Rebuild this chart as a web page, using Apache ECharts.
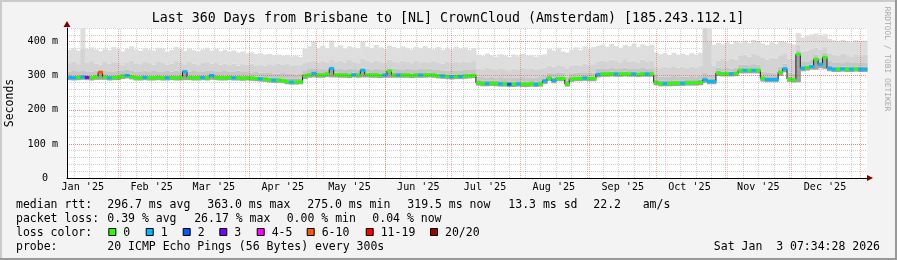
<!DOCTYPE html>
<html><head><meta charset="utf-8">
<script src="https://cdn.jsdelivr.net/npm/echarts@6/dist/echarts.min.js"></script>
<style>html,body{margin:0;padding:0;background:#f3f3f3}#c{width:897px;height:260px}</style>
</head><body><div id="c"></div>
<script>
// ---------- text ----------
const TITLE = "Last 360 Days from Brisbane to [NL] CrownCloud (Amsterdam) [185.243.112.1]";
const Y_NAME = "Seconds";
const WATERMARK = "RRDTOOL / TOBI OETIKER";
const monthLabels = ["Jan '25","Feb '25","Mar '25","Apr '25","May '25","Jun '25","Jul '25","Aug '25","Sep '25","Oct '25","Nov '25","Dec '25"];
const rttStats = ["296.7 ms avg","363.0 ms max","275.0 ms min","319.5 ms now","13.3 ms sd","22.2","am/s"];
const lossStats = ["0.39 % avg","26.17 % max","0.00 % min","0.04 % now"];
const lossNames = ["0","1","2","3","4-5","6-10","11-19","20/20"];
const lossUpper = [0,1,2,3,5,10,19,20];
const probeText = "20 ICMP Echo Pings (56 Bytes) every 300s";
const stampText = "Sat Jan  3 07:34:28 2026";

// ---------- axis ranges (x in days since 2025-01-01) ----------
const X_MIN = 7.9, X_MAX = 367.9, BIN = 2;
const Y_MAX = 440, Y_MAJOR = 100, Y_MINOR = 20;

// ---------- data: one value per 2-day bin ----------
const median = [
295,294,295,296,295,294,296,310,296,294,295,295,299,301,297,294,294,295,294,294,
295,294,294,295,294,294,312,295,294,294,295,294,301,295,294,294,295,294,294,293,
294,293,292,291,290,288,287,287,286,282,281,281,282,300,302,307,302,302,305,321,
303,302,302,301,303,302,316,303,302,302,301,302,314,302,302,302,302,301,302,302,
302,303,302,300,299,298,297,298,298,299,300,301,279,277,277,278,277,276,276,275,
275,276,275,275,276,275,276,285,293,286,292,292,276,290,292,292,293,292,292,304,
305,305,306,305,305,306,305,305,304,305,305,305,280,277,277,277,278,278,278,279,
279,279,280,288,283,283,308,306,306,306,307,316,316,316,316,316,292,289,289,289,
310,320,290,288,363,322,324,327,348,333,354,322,319,319,320,319,319,320,319,319];
const lossCount = [
1,1,0,1,3,0,0,5.23,0,1,0,0,0,1,0,0,0,1,0,0,
0,0,1,0,0,0,1,0,0,0,1,0,1,0,0,0,0,1,0,0,
0,0,0,1,0,0,1,0,0,0,1,0,0,0,0,1,0,0,0,1,
0,0,0,0,1,0,1,0,0,0,0,1,0,0,1,0,0,0,0,1,
0,0,0,0,1,0,1,0,1,0,0,0,0,0,1,0,0,1,0,2,
0,1,0,0,0,1,0,1,0,1,0,0,0,0,0,0,1,0,0,1,
0,0,0,1,0,0,0,1,0,0,1,0,0,0,1,0,0,0,1,0,
0,0,0,1,1,1,0,0,0,1,0,0,1,0,1,0,0,1,1,1,
0,1,0,0,0,1,0,1,0,1,0,1,1,0,1,0,1,0,1,1];
const smokeMin = [
287,286,287,288,287,286,288,288,288,286,287,287,290,292,289,286,286,287,286,286,
287,286,286,287,286,286,287,287,286,286,287,286,288,287,286,286,287,286,286,285,
286,285,284,283,282,280,279,279,278,275,274,274,275,290,294,295,294,294,296,295,
295,294,294,293,295,294,295,295,294,294,293,294,294,294,294,294,294,293,294,294,
294,295,294,292,291,290,289,290,290,291,292,293,271,269,269,270,269,268,268,267,
267,268,267,267,268,267,268,276,285,278,284,284,268,282,284,284,285,284,284,295,
297,297,298,297,297,298,297,297,296,297,297,297,272,269,269,269,270,270,270,271,
271,271,272,279,275,275,299,298,298,298,299,307,307,307,307,307,283,281,281,281,
300,310,282,280,281,313,315,318,318,322,320,313,311,311,312,311,311,312,311,311];
const smoke1 = [
301,300,301,302,301,300,302,312,302,300,301,301,305,307,303,300,300,301,300,300,
301,300,300,301,300,300,314,301,300,300,301,300,306,301,300,300,301,300,300,299,
300,299,298,297,296,294,293,293,292,292,291,291,292,305,308,311,308,308,311,323,
309,308,308,307,309,308,318,309,308,308,307,308,316,308,308,308,308,307,308,308,
308,309,308,306,305,304,303,304,304,305,306,307,287,285,285,286,285,284,284,283,
283,284,283,283,284,283,284,291,299,294,298,298,285,296,298,298,299,298,298,310,
311,311,312,311,311,312,311,311,310,311,311,311,288,285,285,285,286,286,286,287,
287,287,288,296,291,291,314,312,312,312,313,322,322,322,322,322,299,296,296,296,
316,326,297,295,366,328,330,333,352,340,358,329,326,326,327,326,326,327,326,326];
const smoke2 = [
312,314,311,316,313,312,315,318,314,311,313,315,316,317,314,312,313,315,311,314,
313,311,314,312,315,313,318,312,314,311,313,315,316,313,311,314,312,313,315,311,
313,310,311,309,310,308,307,306,308,305,306,304,307,316,320,322,319,321,318,328,
319,320,318,321,319,317,324,320,318,321,319,317,322,320,319,318,321,319,317,320,
319,321,318,317,316,315,316,314,316,317,318,319,298,296,295,297,294,296,295,293,
295,294,296,293,295,294,296,300,309,305,308,309,297,307,309,308,310,308,309,320,
322,321,323,320,322,324,321,322,320,323,321,322,302,298,296,297,299,296,298,297,
299,298,300,310,304,302,324,322,323,321,324,332,333,331,334,332,312,308,309,307,
326,335,310,307,375,340,342,346,362,352,368,343,338,339,337,340,338,339,337,338];
const smoke3 = [
337,341,334,380,338,343,336,333,340,335,342,338,331,339,344,336,334,340,337,333,
341,338,332,336,343,339,334,340,336,331,337,342,335,339,333,336,331,335,330,334,
332,335,329,333,330,334,331,336,332,335,330,333,331,337,341,345,339,343,338,348,
340,344,338,346,341,337,350,343,339,345,340,337,347,342,338,344,340,337,343,339,
341,338,344,339,336,340,337,341,338,342,339,343,321,318,323,320,317,322,319,316,
321,318,323,319,322,317,320,323,330,327,331,329,322,330,333,329,336,331,334,342,
345,340,347,343,338,346,341,344,339,347,342,345,327,322,326,323,328,324,327,322,
326,323,329,440,400,330,345,349,343,351,347,358,362,356,364,359,352,347,353,349,
360,366,350,348,392,370,374,378,382,376,384,366,362,358,364,360,357,363,359,361];
const smokeMax = [
376,381,374,440,379,383,377,372,380,375,384,378,371,379,386,376,373,381,377,374,
382,379,370,376,384,378,373,380,375,371,377,382,374,379,372,376,370,374,368,371,
366,369,364,367,362,364,360,362,358,361,357,359,355,379,386,400,382,388,381,403,
384,389,380,386,383,379,400,385,381,390,383,378,388,384,379,386,382,377,385,380,
387,381,378,384,376,382,377,385,379,383,376,381,362,358,365,360,356,363,359,355,
362,357,364,359,361,356,360,363,378,374,382,371,368,376,383,375,386,379,384,388,
391,385,393,387,382,390,386,394,384,392,388,391,368,363,366,361,367,362,365,360,
366,362,368,440,440,391,396,392,398,393,401,397,403,396,405,399,394,390,398,393,
402,399,395,392,425,412,418,421,424,416,422,408,404,400,405,401,398,404,400,403];

// ---------- styles ----------
const FONT = 'DejaVu Sans Mono';
const lossColors = ['#26ff00','#00b8ff','#0059ff','#7e00ff','#ff00ff','#ff5500','#ff0000','#a00000'];
const smokeColors = ['#a2a2a2','#b0b0b0','#c5c5c5','#d3d3d3','#dedede'];
const MINOR_GRID = 'rgba(130,130,130,0.38)';
const MAJOR_GRID = 'rgba(255,0,0,0.33)';

// ---------- derived ----------
const DAY0 = Date.UTC(2025, 0, 1);
const dayOf = (y, m, d) => (Date.UTC(y, m, d) - DAY0) / 864e5;
const monthLabelDays = monthLabels.map((_, m) => dayOf(2025, m, 16));
const monthLineDays = [];
for (let m = 1; m <= 12; m++) monthLineDays.push(dayOf(2025, m, 1));
const weekLineDays = [];
for (let d = dayOf(2025, 0, 5); d < X_MAX; d += 7) if (d > X_MIN) weekLineDays.push(d);
const bucket = l => { for (let k = 0; k < lossUpper.length; k++) if (l <= lossUpper[k]) return k; return lossUpper.length - 1; };

const binStart = median.map((_, i) => X_MIN + BIN * i);
const smokeData = median.map((m, i) => [binStart[i], smokeMin[i], m, smoke1[i], smoke2[i], smoke3[i], smokeMax[i]]);
const medLine = median.map((m, i) => [binStart[i] + BIN / 2, m]);
const medBand = median.map((m, i) => [binStart[i], m, bucket(lossCount[i])]);

function renderSmoke(params, api) {
  const x0 = api.value(0), x1 = x0 + BIN;
  const ys = [1,2,3,4,5,6].map(k => api.value(k));
  const children = [];
  for (let k = 0; k < 5; k++) {
    const a = api.coord([x0, ys[k]]), b = api.coord([x1, ys[k + 1]]);
    const top = Math.min(a[1], b[1]), h = Math.abs(a[1] - b[1]);
    if (h <= 0) continue;
    children.push({type: 'rect', shape: {x: a[0], y: top, width: b[0] - a[0] + 0.6, height: h},
      style: {fill: smokeColors[k]}});
  }
  return {type: 'group', children};
}
function renderBand(params, api) {
  const x0 = api.value(0);
  const a = api.coord([x0, api.value(1)]), b = api.coord([x0 + BIN, api.value(1)]);
  return {type: 'rect', shape: {x: a[0], y: a[1] - 1.5, width: b[0] - a[0] + 0.4, height: 3},
    style: {fill: lossColors[api.value(2)]}};
}

const weekLines = weekLineDays.map(d => ({xAxis: d}));
const monthLines = monthLineDays.map(d => ({xAxis: d}));

// ---------- graphic (frame, title, legend) ----------
const txt = (x, y, text, size, extra) => ({type: 'text', x, y, silent: true,
  style: Object.assign({text, fontFamily: FONT, fontSize: size, fill: '#000', align: 'left', verticalAlign: 'middle'}, extra || {})});
const graphics = [
  {type: 'rect', shape: {x: 0, y: 0, width: 897, height: 2}, style: {fill: '#cbcbcb'}, silent: true},
  {type: 'rect', shape: {x: 0, y: 0, width: 2, height: 260}, style: {fill: '#cbcbcb'}, silent: true},
  {type: 'rect', shape: {x: 0, y: 258, width: 897, height: 2}, style: {fill: '#999999'}, silent: true},
  {type: 'rect', shape: {x: 895, y: 0, width: 2, height: 260}, style: {fill: '#999999'}, silent: true},
  txt(448, 19, TITLE, 13.3, {align: 'center'}),
  Object.assign(txt(10, 103, Y_NAME, 11.5, {align: 'center'}), {rotation: Math.PI / 2}),
  Object.assign(txt(887, 59, WATERMARK, 7.9, {align: 'center', fill: '#a8a8a8'}), {rotation: -Math.PI / 2}),
];
const L1 = 204.8, L2 = 218.8, L3 = 232.8, L4 = 246.8;
const rttX = [107.3, 207.3, 307.3, 407.3, 508.3, 593.3, 642.7];
const lossX = [107.3, 194.2, 286.7, 372.3];
const boxX = [108.3, 145.7, 182.7, 219.3, 256.7, 306.7, 365.7, 430];
graphics.push(txt(16, L1, 'median rtt:', 11.5));
rttStats.forEach((s, i) => graphics.push(txt(rttX[i], L1, s, 11.5)));
graphics.push(txt(16, L2, 'packet loss:', 11.5));
lossStats.forEach((s, i) => graphics.push(txt(lossX[i], L2, s, 11.5)));
graphics.push(txt(16, L3, 'loss color:', 11.5));
lossNames.forEach((s, i) => {
  graphics.push({type: 'rect', silent: true, shape: {x: boxX[i] + 0.5, y: 228.5, width: 7, height: 7},
    style: {fill: lossColors[i], stroke: '#000', lineWidth: 1}});
  graphics.push(txt(boxX[i] + 15, L3, s, 11.5));
});
graphics.push(txt(16, L4, 'probe:', 11.5));
graphics.push(txt(107.3, L4, probeText, 11.5));
graphics.push(txt(880, L4, stampText, 11.5, {align: 'right'}));

const axisFont = {fontFamily: FONT, fontSize: 10.1, color: '#000'};
const chart = echarts.init(document.getElementById('c'), null, {renderer: 'canvas'});
chart.setOption({
  animation: false,
  backgroundColor: '#f3f3f3',
  grid: {left: 67, top: 28, width: 800, height: 150, show: true, backgroundColor: '#ffffff', borderWidth: 0},
  xAxis: [
    {type: 'value', min: X_MIN, max: X_MAX, position: 'bottom', z: 7,
      axisLine: {show: true, onZero: false, lineStyle: {color: '#000', width: 1}},
      axisTick: {show: false}, splitLine: {show: false},
      axisLabel: Object.assign({show: true, margin: 4, customValues: monthLabelDays,
        formatter: v => { let b = 0; monthLabelDays.forEach((d, i) => { if (Math.abs(d - v) < Math.abs(monthLabelDays[b] - v)) b = i; }); return monthLabels[b]; }}, axisFont)},
    {type: 'value', min: X_MIN, max: X_MAX, position: 'bottom', z: 8,
      axisLine: {show: true, onZero: false, symbol: ['none', 'triangle'], symbolSize: [6, 6], symbolOffset: [0, 3],
        lineStyle: {color: '#800000', width: 0}},
      axisTick: {show: false}, axisLabel: {show: false}, splitLine: {show: false}}
  ],
  yAxis: [
    {type: 'value', min: 0, max: Y_MAX, interval: Y_MINOR, position: 'left', z: 0,
      axisLine: {show: false}, axisTick: {show: false}, axisLabel: {show: false},
      splitLine: {show: true, lineStyle: {color: MINOR_GRID, type: [1, 1], width: 1}}},
    {type: 'value', min: 0, max: Y_MAX, interval: Y_MAJOR, position: 'left', z: 7,
      axisLine: {show: true, lineStyle: {color: '#000', width: 1}}, axisTick: {show: false},
      axisLabel: Object.assign({show: true, showMaxLabel: false, margin: 9,
        formatter: v => v === 0 ? '{z|0}' : v + ' m',
        rich: {z: Object.assign({padding: [0, 10, 0, 0]}, axisFont)}}, axisFont),
      splitLine: {show: true, showMaxLine: false, lineStyle: {color: MAJOR_GRID, type: [1, 1], width: 1}}},
    {type: 'value', min: 0, max: Y_MAX, position: 'left', z: 8,
      axisLine: {show: true, symbol: ['none', 'triangle'], symbolSize: [7, 6], symbolOffset: [0, 4],
        lineStyle: {color: '#800000', width: 0}},
      axisTick: {show: false}, axisLabel: {show: false}, splitLine: {show: false}}
  ],
  series: [
    {type: 'line', name: 'weeks', data: [], z: 1, silent: true, symbol: 'none',
      markLine: {silent: true, z: 1, symbol: ['none', 'none'], label: {show: false}, animation: false,
        lineStyle: {color: MINOR_GRID, type: [1, 1], width: 1}, data: weekLines}},
    {type: 'custom', name: 'smoke', renderItem: renderSmoke, data: smokeData, z: 2, silent: true,
      encode: {x: 0, y: [1, 6]}},
    {type: 'line', name: 'median', data: medLine, step: 'middle', symbol: 'none', z: 3, silent: true,
      lineStyle: {color: '#202020', width: 1},
      markLine: {silent: true, z: 5, symbol: ['none', 'none'], label: {show: false}, animation: false,
        lineStyle: {color: MAJOR_GRID, type: [1, 1], width: 1}, data: monthLines}},
    {type: 'custom', name: 'loss', renderItem: renderBand, data: medBand, z: 4, silent: true,
      encode: {x: 0, y: 1}}
  ],
  graphic: graphics
});
</script></body></html>
